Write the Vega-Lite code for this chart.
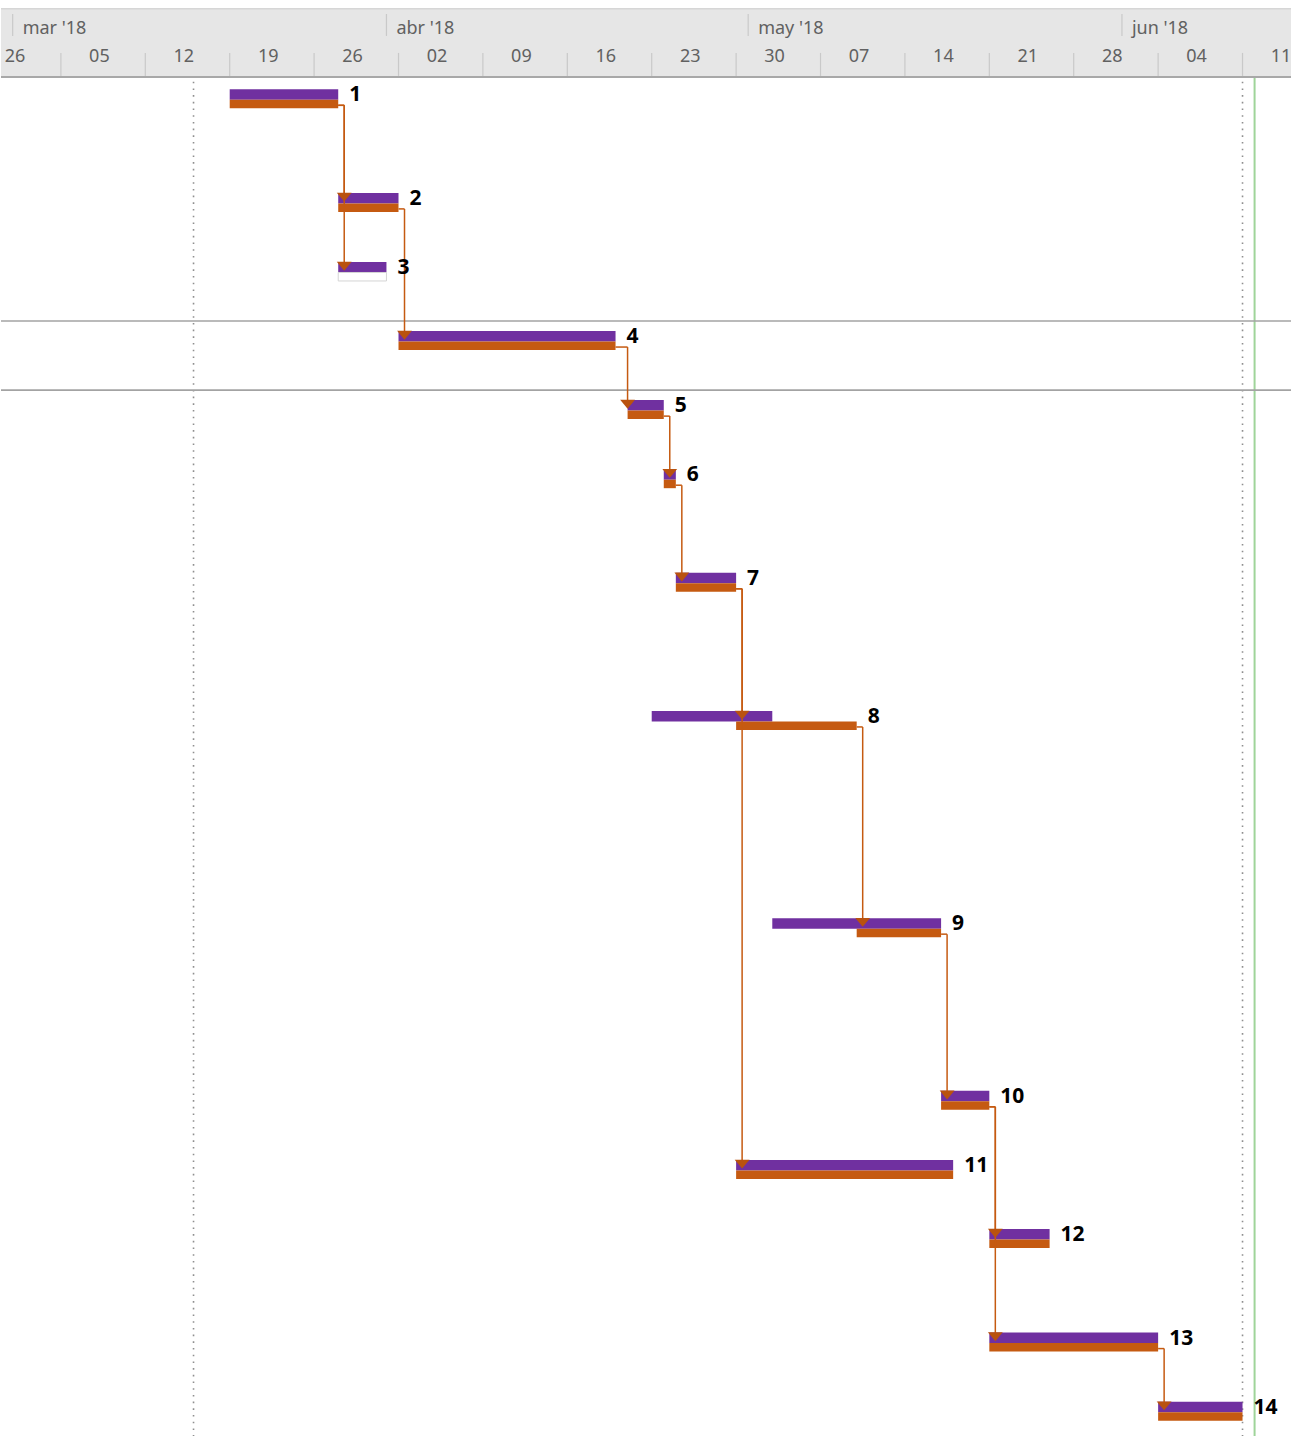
{
  "$schema": "https://vega.github.io/schema/vega-lite/v6.json",
  "width": 1305,
  "height": 1437,
  "autosize": {"type": "fit", "contains": "padding"},
  "padding": {"top": 7, "left": 0, "right": 13, "bottom": 0},
  "background": "white",
  "config": {"view": {"stroke": null}},
  "datasets": {
    "tasks": [
      {"id": 1, "line": 0, "planStart": "2018-03-19", "planEnd": "2018-03-28", "start": "2018-03-19", "end": "2018-03-28", "done": true},
      {"id": 2, "line": 3, "planStart": "2018-03-28", "planEnd": "2018-04-02", "start": "2018-03-28", "end": "2018-04-02", "done": true},
      {"id": 3, "line": 5, "planStart": "2018-03-28", "planEnd": "2018-04-01", "start": "2018-03-28", "end": "2018-04-01", "done": false},
      {"id": 4, "line": 7, "planStart": "2018-04-02", "planEnd": "2018-04-20", "start": "2018-04-02", "end": "2018-04-20", "done": true},
      {"id": 5, "line": 9, "planStart": "2018-04-21", "planEnd": "2018-04-24", "start": "2018-04-21", "end": "2018-04-24", "done": true},
      {"id": 6, "line": 11, "planStart": "2018-04-24", "planEnd": "2018-04-25", "start": "2018-04-24", "end": "2018-04-25", "done": true},
      {"id": 7, "line": 14, "planStart": "2018-04-25", "planEnd": "2018-04-30", "start": "2018-04-25", "end": "2018-04-30", "done": true},
      {"id": 8, "line": 18, "planStart": "2018-04-23", "planEnd": "2018-05-03", "start": "2018-04-30", "end": "2018-05-10", "done": true},
      {"id": 9, "line": 24, "planStart": "2018-05-03", "planEnd": "2018-05-17", "start": "2018-05-10", "end": "2018-05-17", "done": true},
      {"id": 10, "line": 29, "planStart": "2018-05-17", "planEnd": "2018-05-21", "start": "2018-05-17", "end": "2018-05-21", "done": true},
      {"id": 11, "line": 31, "planStart": "2018-04-30", "planEnd": "2018-05-18", "start": "2018-04-30", "end": "2018-05-18", "done": true},
      {"id": 12, "line": 33, "planStart": "2018-05-21", "planEnd": "2018-05-26", "start": "2018-05-21", "end": "2018-05-26", "done": true},
      {"id": 13, "line": 36, "planStart": "2018-05-21", "planEnd": "2018-06-04", "start": "2018-05-21", "end": "2018-06-04", "done": true},
      {"id": 14, "line": 38, "planStart": "2018-06-04", "planEnd": "2018-06-11", "start": "2018-06-04", "end": "2018-06-11", "done": true}
    ],
    "links": [
      {"from": 1, "to": 2, "fromLine": 0, "toLine": 3, "predEnd": "2018-03-28", "drop": "2018-03-28"},
      {"from": 1, "to": 3, "fromLine": 0, "toLine": 5, "predEnd": "2018-03-28", "drop": "2018-03-28"},
      {"from": 2, "to": 4, "fromLine": 3, "toLine": 7, "predEnd": "2018-04-02", "drop": "2018-04-02"},
      {"from": 4, "to": 5, "fromLine": 7, "toLine": 9, "predEnd": "2018-04-20", "drop": "2018-04-20T12:00:00Z"},
      {"from": 5, "to": 6, "fromLine": 9, "toLine": 11, "predEnd": "2018-04-24", "drop": "2018-04-24"},
      {"from": 6, "to": 7, "fromLine": 11, "toLine": 14, "predEnd": "2018-04-25", "drop": "2018-04-25"},
      {"from": 7, "to": 8, "fromLine": 14, "toLine": 18, "predEnd": "2018-04-30", "drop": "2018-04-30"},
      {"from": 7, "to": 11, "fromLine": 14, "toLine": 31, "predEnd": "2018-04-30", "drop": "2018-04-30"},
      {"from": 8, "to": 9, "fromLine": 18, "toLine": 24, "predEnd": "2018-05-10", "drop": "2018-05-10"},
      {"from": 9, "to": 10, "fromLine": 24, "toLine": 29, "predEnd": "2018-05-17", "drop": "2018-05-17"},
      {"from": 10, "to": 12, "fromLine": 29, "toLine": 33, "predEnd": "2018-05-21", "drop": "2018-05-21"},
      {"from": 10, "to": 13, "fromLine": 29, "toLine": 36, "predEnd": "2018-05-21", "drop": "2018-05-21"},
      {"from": 13, "to": 14, "fromLine": 36, "toLine": 38, "predEnd": "2018-06-04", "drop": "2018-06-04"}
    ],
    "months": [
      {"label": "mar '18", "start": "2018-03-01"},
      {"label": "abr '18", "start": "2018-04-01"},
      {"label": "may '18", "start": "2018-05-01"},
      {"label": "jun '18", "start": "2018-06-01"}
    ],
    "weeks": [
      {"label": "26", "start": "2018-02-26", "edge": false},
      {"label": "05", "start": "2018-03-05", "edge": true},
      {"label": "12", "start": "2018-03-12", "edge": true},
      {"label": "19", "start": "2018-03-19", "edge": true},
      {"label": "26", "start": "2018-03-26", "edge": true},
      {"label": "02", "start": "2018-04-02", "edge": true},
      {"label": "09", "start": "2018-04-09", "edge": true},
      {"label": "16", "start": "2018-04-16", "edge": true},
      {"label": "23", "start": "2018-04-23", "edge": true},
      {"label": "30", "start": "2018-04-30", "edge": true},
      {"label": "07", "start": "2018-05-07", "edge": true},
      {"label": "14", "start": "2018-05-14", "edge": true},
      {"label": "21", "start": "2018-05-21", "edge": true},
      {"label": "28", "start": "2018-05-28", "edge": true},
      {"label": "04", "start": "2018-06-04", "edge": true},
      {"label": "11", "start": "2018-06-11", "edge": true}
    ],
    "markers": [
      {"date": "2018-03-16", "kind": "limit"},
      {"date": "2018-06-11", "kind": "limit"},
      {"date": "2018-06-12", "kind": "status"}
    ],
    "selectedRow": [
      {"line": 7},
      {"line": 9}
    ]
  },
  "layer": [
    {
      "data": {"name": "markers", "format": {"parse": {"date": "date"}}},
      "transform": [{"filter": "datum.kind === 'limit'"}],
      "mark": {"type": "rule", "color": "#8f8f8f", "strokeWidth": 1.6, "strokeDash": [1.6, 5.1]},
      "encoding": {
        "x": {"field": "date", "type": "temporal", "axis": null,
              "scale": {"type": "utc", "nice": false, "domain": [{"year": 2018, "month": 2, "date": 28, "hours": 0, "minutes": 46, "utc": true}, {"year": 2018, "month": 6, "date": 15, "hours": 0, "minutes": 29, "utc": true}]}}
      }
    },
    {
      "data": {"name": "markers", "format": {"parse": {"date": "date"}}},
      "transform": [{"filter": "datum.kind === 'status'"}],
      "mark": {"type": "rule", "color": "#9fd49a", "strokeWidth": 2},
      "encoding": {
        "x": {"field": "date", "type": "temporal", "axis": null,
              "scale": {"type": "utc", "nice": false, "domain": [{"year": 2018, "month": 2, "date": 28, "hours": 0, "minutes": 46, "utc": true}, {"year": 2018, "month": 6, "date": 15, "hours": 0, "minutes": 29, "utc": true}]}}
      }
    },
    {
      "data": {"name": "selectedRow"},
      "mark": {"type": "rule", "color": "#a3a3a3", "strokeWidth": 1.6},
      "encoding": {
        "y": {"field": "line", "type": "quantitative", "axis": null,
              "scale": {"domain": [-2.0645, 39.284], "reverse": true, "nice": false, "zero": false}}
      }
    },
    {
      "data": {"values": [{}]},
      "mark": {"type": "rect", "color": "#e6e6e6"},
      "encoding": {
        "y": {"datum": -2.0645, "type": "quantitative", "axis": null,
              "scale": {"domain": [-2.0645, 39.284], "reverse": true, "nice": false, "zero": false}},
        "y2": {"datum": -0.069}
      }
    },
    {
      "data": {"values": [{}]},
      "mark": {"type": "rule", "color": "#d6d6d6", "strokeWidth": 1.5},
      "encoding": {
        "y": {"datum": -2.045, "type": "quantitative", "axis": null,
              "scale": {"domain": [-2.0645, 39.284], "reverse": true, "nice": false, "zero": false}}
      }
    },
    {
      "data": {"values": [{}]},
      "mark": {"type": "rule", "color": "#a8a8a8", "strokeWidth": 2},
      "encoding": {
        "y": {"datum": -0.069, "type": "quantitative", "axis": null,
              "scale": {"domain": [-2.0645, 39.284], "reverse": true, "nice": false, "zero": false}}
      }
    },
    {
      "data": {"name": "months", "format": {"parse": {"start": "date"}}},
      "mark": {"type": "rule", "color": "#c9c9c9", "strokeWidth": 1.2},
      "encoding": {
        "x": {"field": "start", "type": "temporal", "axis": null,
              "scale": {"type": "utc", "nice": false, "domain": [{"year": 2018, "month": 2, "date": 28, "hours": 0, "minutes": 46, "utc": true}, {"year": 2018, "month": 6, "date": 15, "hours": 0, "minutes": 29, "utc": true}]}},
        "y": {"datum": -1.891, "type": "quantitative", "axis": null,
              "scale": {"domain": [-2.0645, 39.284], "reverse": true, "nice": false, "zero": false}},
        "y2": {"datum": -1.255}
      }
    },
    {
      "data": {"name": "months", "format": {"parse": {"start": "date"}}},
      "mark": {"type": "text", "align": "left", "baseline": "alphabetic", "dx": 10, "font": "Noto Sans", "fontSize": 18, "color": "#616161"},
      "encoding": {
        "x": {"field": "start", "type": "temporal", "axis": null,
              "scale": {"type": "utc", "nice": false, "domain": [{"year": 2018, "month": 2, "date": 28, "hours": 0, "minutes": 46, "utc": true}, {"year": 2018, "month": 6, "date": 15, "hours": 0, "minutes": 29, "utc": true}]}},
        "y": {"datum": -1.32, "type": "quantitative", "axis": null,
              "scale": {"domain": [-2.0645, 39.284], "reverse": true, "nice": false, "zero": false}},
        "text": {"field": "label", "type": "nominal"}
      }
    },
    {
      "data": {"name": "weeks", "format": {"parse": {"start": "date"}}},
      "transform": [{"filter": "datum.edge"}],
      "mark": {"type": "rule", "color": "#c9c9c9", "strokeWidth": 1.2},
      "encoding": {
        "x": {"field": "start", "type": "temporal", "axis": null,
              "scale": {"type": "utc", "nice": false, "domain": [{"year": 2018, "month": 2, "date": 28, "hours": 0, "minutes": 46, "utc": true}, {"year": 2018, "month": 6, "date": 15, "hours": 0, "minutes": 29, "utc": true}]}},
        "y": {"datum": -0.763, "type": "quantitative", "axis": null,
              "scale": {"domain": [-2.0645, 39.284], "reverse": true, "nice": false, "zero": false}},
        "y2": {"datum": -0.098}
      }
    },
    {
      "data": {"name": "weeks", "format": {"parse": {"start": "date"}}},
      "mark": {"type": "text", "align": "center", "baseline": "alphabetic", "dx": 38.5, "font": "Noto Sans", "fontSize": 18, "color": "#616161"},
      "encoding": {
        "x": {"field": "start", "type": "temporal", "axis": null,
              "scale": {"type": "utc", "nice": false, "domain": [{"year": 2018, "month": 2, "date": 28, "hours": 0, "minutes": 46, "utc": true}, {"year": 2018, "month": 6, "date": 15, "hours": 0, "minutes": 29, "utc": true}]}},
        "y": {"datum": -0.5, "type": "quantitative", "axis": null,
              "scale": {"domain": [-2.0645, 39.284], "reverse": true, "nice": false, "zero": false}},
        "text": {"field": "label", "type": "nominal"}
      }
    },
    {
      "data": {"name": "tasks", "format": {"parse": {"planStart": "date", "planEnd": "date"}}},
      "mark": {"type": "rect", "color": "#7030a0", "yOffset": 10, "y2Offset": 20.5},
      "encoding": {
        "x": {"field": "planStart", "type": "temporal", "axis": null,
              "scale": {"type": "utc", "nice": false, "domain": [{"year": 2018, "month": 2, "date": 28, "hours": 0, "minutes": 46, "utc": true}, {"year": 2018, "month": 6, "date": 15, "hours": 0, "minutes": 29, "utc": true}]}},
        "x2": {"field": "planEnd"},
        "y": {"field": "line", "type": "quantitative", "axis": null,
              "scale": {"domain": [-2.0645, 39.284], "reverse": true, "nice": false, "zero": false}},
        "y2": {"field": "line"}
      }
    },
    {
      "data": {"name": "tasks", "format": {"parse": {"start": "date", "end": "date"}}},
      "transform": [{"filter": "datum.done"}],
      "mark": {"type": "rect", "color": "#c55a11", "yOffset": 20.5, "y2Offset": 29},
      "encoding": {
        "x": {"field": "start", "type": "temporal", "axis": null,
              "scale": {"type": "utc", "nice": false, "domain": [{"year": 2018, "month": 2, "date": 28, "hours": 0, "minutes": 46, "utc": true}, {"year": 2018, "month": 6, "date": 15, "hours": 0, "minutes": 29, "utc": true}]}},
        "x2": {"field": "end"},
        "y": {"field": "line", "type": "quantitative", "axis": null,
              "scale": {"domain": [-2.0645, 39.284], "reverse": true, "nice": false, "zero": false}},
        "y2": {"field": "line"}
      }
    },
    {
      "data": {"name": "tasks", "format": {"parse": {"start": "date", "end": "date"}}},
      "transform": [{"filter": "!datum.done"}],
      "mark": {"type": "rect", "fill": "#ffffff", "stroke": "#d4d4d4", "strokeWidth": 1, "yOffset": 20.5, "y2Offset": 29},
      "encoding": {
        "x": {"field": "start", "type": "temporal", "axis": null,
              "scale": {"type": "utc", "nice": false, "domain": [{"year": 2018, "month": 2, "date": 28, "hours": 0, "minutes": 46, "utc": true}, {"year": 2018, "month": 6, "date": 15, "hours": 0, "minutes": 29, "utc": true}]}},
        "x2": {"field": "end"},
        "y": {"field": "line", "type": "quantitative", "axis": null,
              "scale": {"domain": [-2.0645, 39.284], "reverse": true, "nice": false, "zero": false}},
        "y2": {"field": "line"}
      }
    },
    {
      "data": {"name": "links", "format": {"parse": {"predEnd": "date", "drop": "date"}}},
      "mark": {"type": "rule", "color": "#c55a11", "strokeWidth": 1.5, "yOffset": 26, "x2Offset": 6},
      "encoding": {
        "x": {"field": "predEnd", "type": "temporal", "axis": null,
              "scale": {"type": "utc", "nice": false, "domain": [{"year": 2018, "month": 2, "date": 28, "hours": 0, "minutes": 46, "utc": true}, {"year": 2018, "month": 6, "date": 15, "hours": 0, "minutes": 29, "utc": true}]}},
        "x2": {"field": "drop"},
        "y": {"field": "fromLine", "type": "quantitative", "axis": null,
              "scale": {"domain": [-2.0645, 39.284], "reverse": true, "nice": false, "zero": false}}
      }
    },
    {
      "data": {"name": "links", "format": {"parse": {"predEnd": "date", "drop": "date"}}},
      "mark": {"type": "rule", "color": "#c55a11", "strokeWidth": 1.5, "xOffset": 6, "yOffset": 26, "y2Offset": 12},
      "encoding": {
        "x": {"field": "drop", "type": "temporal", "axis": null,
              "scale": {"type": "utc", "nice": false, "domain": [{"year": 2018, "month": 2, "date": 28, "hours": 0, "minutes": 46, "utc": true}, {"year": 2018, "month": 6, "date": 15, "hours": 0, "minutes": 29, "utc": true}]}},
        "y": {"field": "fromLine", "type": "quantitative", "axis": null,
              "scale": {"domain": [-2.0645, 39.284], "reverse": true, "nice": false, "zero": false}},
        "y2": {"field": "toLine"}
      }
    },
    {
      "data": {"name": "links", "format": {"parse": {"predEnd": "date", "drop": "date"}}},
      "mark": {"type": "point", "shape": "M-1,-0.6L1,-0.6L0,0.6Z", "filled": true, "opacity": 1, "size": 220, "color": "#b9520f", "xOffset": 6, "yOffset": 14.2},
      "encoding": {
        "x": {"field": "drop", "type": "temporal", "axis": null,
              "scale": {"type": "utc", "nice": false, "domain": [{"year": 2018, "month": 2, "date": 28, "hours": 0, "minutes": 46, "utc": true}, {"year": 2018, "month": 6, "date": 15, "hours": 0, "minutes": 29, "utc": true}]}},
        "y": {"field": "toLine", "type": "quantitative", "axis": null,
              "scale": {"domain": [-2.0645, 39.284], "reverse": true, "nice": false, "zero": false}}
      }
    },
    {
      "data": {"name": "tasks", "format": {"parse": {"end": "date"}}},
      "mark": {"type": "text", "align": "left", "baseline": "middle", "dx": 11, "yOffset": 16, "font": "Noto Sans", "fontSize": 21, "fontWeight": "bold", "color": "#000000"},
      "encoding": {
        "x": {"field": "end", "type": "temporal", "axis": null,
              "scale": {"type": "utc", "nice": false, "domain": [{"year": 2018, "month": 2, "date": 28, "hours": 0, "minutes": 46, "utc": true}, {"year": 2018, "month": 6, "date": 15, "hours": 0, "minutes": 29, "utc": true}]}},
        "y": {"field": "line", "type": "quantitative", "axis": null,
              "scale": {"domain": [-2.0645, 39.284], "reverse": true, "nice": false, "zero": false}},
        "text": {"field": "id", "type": "nominal"}
      }
    }
  ]
}
